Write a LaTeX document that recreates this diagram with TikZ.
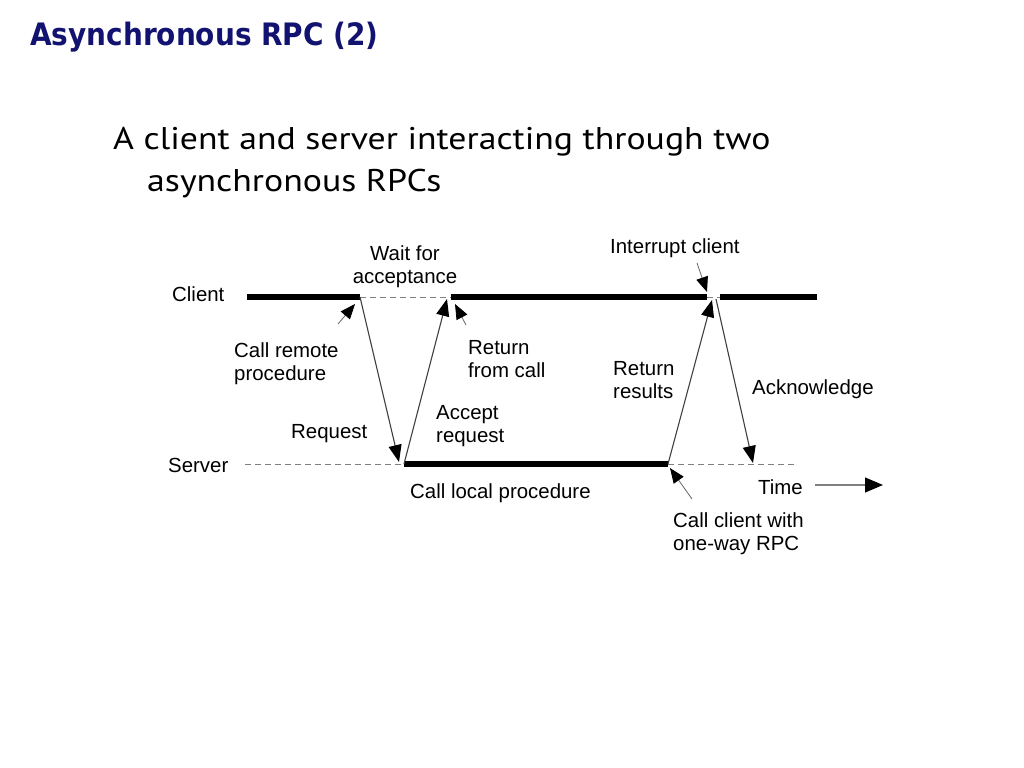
\documentclass[tikz,border=0pt]{standalone}
\usepackage{fontspec}
\setmainfont{Liberation Sans}
\newfontfamily\headfont[FakeStretch=0.905]{DejaVu Sans}
\newfontfamily\slidefont[FakeStretch=1.14]{PT Sans}
\usetikzlibrary{arrows.meta}
\definecolor{slideblue}{RGB}{18,18,112}
\newcommand{\labelSize}[0]{\fontsize{20.5}{23}\selectfont}

\begin{document}
\begin{tikzpicture}[x=1bp, y=-1bp]
  \tikzset{every node/.style={inner sep=0pt, font=\labelSize},
    lbl/.style={anchor=base west, align=left},
    busy/.style={line width=5.5bp},
    idle/.style={gray, line width=0.9bp, dash pattern=on 6bp off 4bp},
    msg/.style={black!75, line width=1.1bp, -{Triangle[length=17bp,width=13bp,color=black]}},
    note/.style={black!60, line width=0.8bp, -{Triangle[length=15bp,width=12bp,color=black]}}}
  \useasboundingbox[fill=white] (0,0) rectangle (1024,768);

  \node[anchor=base west, font=\headfont\bfseries\fontsize{31}{36}\selectfont,
    text=slideblue] (title) at (30,46) {Asynchronous RPC (2)};
  \node[anchor=base west, font=\slidefont\fontsize{31.5}{42}\selectfont]
    (line1) at (113,149) {A client and server interacting through two};
  \node[anchor=base west, font=\slidefont\fontsize{31.5}{42}\selectfont]
    (line2) at (147,191) {asynchronous RPCs};

  % time lines
  \coordinate (c0) at (247,297);
  \coordinate (c1) at (360,297);
  \coordinate (c2) at (451,297);
  \coordinate (c3) at (707,297);
  \coordinate (c4) at (720,297);
  \coordinate (c5) at (817,297);
  \coordinate (s0) at (245,464);
  \coordinate (s1) at (404,464);
  \coordinate (s2) at (668,464);
  \coordinate (s3) at (795,464);

  \draw[busy] (c0) -- (c1);
  \draw[idle] (c1) -- (c2);
  \draw[busy] (c2) -- (c3);
  \draw[idle] (c3) -- (c4);
  \draw[busy] (c4) -- (c5);
  \draw[idle] (s0) -- (s1);
  \draw[busy] (s1) -- (s2);
  \draw[idle] (s2) -- (s3);

  \node[lbl] (client) at (172,301) {Client};
  \node[lbl] (server) at (168,472) {Server};

  % messages
  \coordinate (rq) at (399,462);
  \coordinate (ac) at (447,299);
  \coordinate (rr) at (712,300);
  \coordinate (ak0) at (716,299);
  \coordinate (ak1) at (753,463);
  \draw[msg] (c1) -- (rq);
  \draw[msg] (s1) -- (ac);
  \draw[msg] (s2) -- (rr);
  \draw[msg] (ak0) -- (ak1);

  % labels (base = last line)
  \node[anchor=base, align=center] (wait) at (405,283) {Wait for\\acceptance};
  \node[lbl] (interrupt) at (610,253) {Interrupt client};
  \node[lbl] (callremote) at (234,380) {Call remote\\procedure};
  \node[lbl] (retcall) at (468,377) {Return\\from call};
  \node[lbl] (retres) at (613,398) {Return\\results};
  \node[lbl] (ack) at (752,394) {Acknowledge};
  \node[lbl] (accept) at (436,442) {Accept\\request};
  \node[lbl] (request) at (291,438) {Request};
  \node[lbl] (calllocal) at (410,498) {Call local procedure};
  \node[lbl] (time) at (758,494) {Time};
  \node[lbl] (oneway) at (673,550) {Call client with\\one-way RPC};

  % pointers
  \coordinate (p1) at (338,324);
  \coordinate (p1e) at (355,304);
  \coordinate (p2) at (466,325);
  \coordinate (p2e) at (455,304);
  \coordinate (p3) at (697,263);
  \coordinate (p3e) at (707,292);
  \coordinate (p4) at (692,499);
  \coordinate (p4e) at (670,468);
  \draw[note] (p1) -- (p1e);
  \draw[note] (p2) -- (p2e);
  \draw[note] (p3) -- (p3e);
  \draw[note] (p4) -- (p4e);

  \coordinate (t0) at (815,485);
  \coordinate (t1) at (883,485);
  \draw[gray, line width=1.2bp, -{Triangle[length=18bp,width=15bp,color=black]}] (t0) -- (t1);
\end{tikzpicture}
\end{document}
